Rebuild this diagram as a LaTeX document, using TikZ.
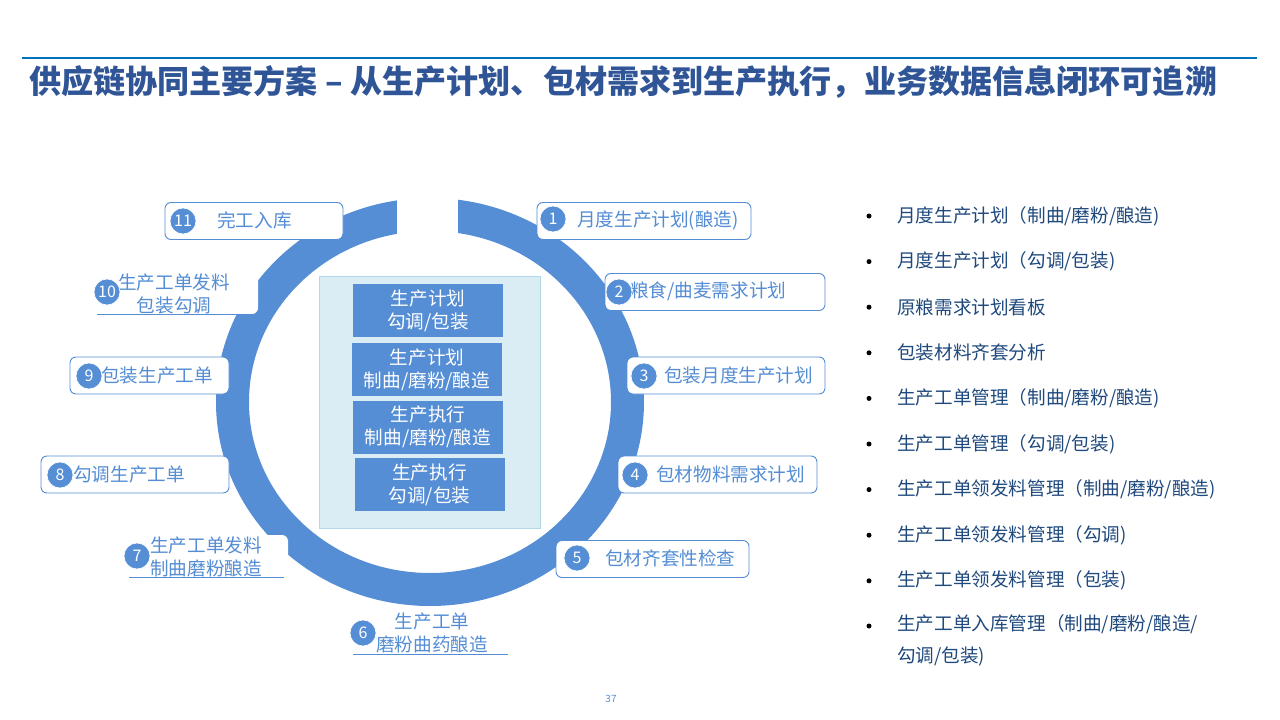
\documentclass[tikz,border=0pt]{standalone}
\usepackage{fontspec}
\newfontfamily\cjk{Noto Sans CJK SC}
\usetikzlibrary{positioning}
\definecolor{ringblue}{RGB}{85,142,213}
\definecolor{labblue}{RGB}{84,141,212}
\definecolor{titleblue}{RGB}{47,85,151}
\definecolor{listblue}{RGB}{31,73,125}
\definecolor{panelfill}{RGB}{218,236,244}
\definecolor{paneledge}{RGB}{176,217,232}
\definecolor{ruleblue}{RGB}{0,112,192}

\tikzset{
  labbox/.style={draw=labblue,fill=white,rounded corners=6pt,line width=0.9pt,minimum height=37pt,inner sep=0pt},
  numdot/.style={circle,fill=ringblue,draw=white,line width=0.6pt,minimum size=26pt,inner sep=0pt,text=white,font=\cjk\fontsize{16}{16}\selectfont},
  labtext/.style={anchor=west,text=labblue,inner sep=0pt,font=\cjk\fontsize{18.6}{23}\selectfont},
  twoline/.style={align=center,text=labblue,inner sep=0pt,font=\cjk\fontsize{18.6}{23}\selectfont},
  stagebox/.style={fill=ringblue,minimum width=150pt,minimum height=53pt,inner sep=0pt,align=center,text=white,font=\cjk\fontsize{18.6}{23}\selectfont},
  listdot/.style={circle,fill=black,minimum size=5pt,inner sep=0pt},
  listtext/.style={anchor=west,inner sep=0pt,text=listblue,align=left,font=\cjk\fontsize{18.6}{32}\selectfont},
  uline/.style={labblue,line width=0.9pt}
}

\begin{document}
\begin{tikzpicture}[x=1pt,y=-1pt]
\useasboundingbox (0,0) rectangle (1280,720);
\draw[ruleblue,line width=1.2pt] (22,58)--(1257,58);
\node[anchor=west,inner sep=0pt,text=titleblue,font=\cjk\bfseries\fontsize{32.1}{33}\selectfont] (title) at (29,82) {供应链协同主要方案 – 从生产计划、包材需求到生产执行，业务数据信息闭环可追溯};

% ring with gap at the top
\coordinate (ctr) at (430,402);
\fill[ringblue,even odd rule] (ctr) ellipse [x radius=214,y radius=204] (ctr) ellipse [x radius=181,y radius=171];
\fill[white] (397,190) rectangle (458,240);

% centre panel
\node[fill=panelfill,draw=paneledge,line width=0.8pt,minimum width=221pt,minimum height=252pt,inner sep=0pt] (panel) at (429.5,402) {};
\node[stagebox] (s1) at (428,310.5) {生产计划\\勾调/包装};
\node[stagebox] (s2) at (427,369.5) {生产计划\\制曲/磨粉/酿造};
\node[stagebox] (s3) at (428,427) {生产执行\\制曲/磨粉/酿造};
\node[stagebox] (s4) at (429.5,484.5) {生产执行\\勾调/包装};

% boxed steps
\node[labbox,minimum width=214pt] (b1) at (644,221) {};
\node[labtext] (t1) at (577,220) {月度生产计划(酿造)};
\node[numdot] (n1) at (553,219) {1};
\node[labbox,minimum width=220pt] (b2) at (715,292) {};
\node[labtext] (t2) at (630,291) {粮食/曲麦需求计划};
\node[numdot] (n2) at (619,292) {2};
\node[labbox,minimum width=198pt] (b3) at (726,375.5) {};
\node[labtext] (t3) at (664,375) {包装月度生产计划};
\node[numdot] (n3) at (644,376) {3};
\node[labbox,minimum width=199pt] (b4) at (717.5,474.5) {};
\node[labtext] (t4) at (656,474) {包材物料需求计划};
\node[numdot] (n4) at (635,475) {4};
\node[labbox,minimum width=193pt] (b5) at (652.5,559) {};
\node[labtext] (t5) at (605,558) {包材齐套性检查};
\node[numdot] (n5) at (577,558) {5};

% underlined steps
\node[twoline] (t6) at (432,633) {生产工单\\磨粉曲药酿造};
\draw[uline] (353,654)--(508,654);
\node[numdot] (n6) at (363,633) {6};
\fill[white,rounded corners=6pt] (129,535) rectangle (288,577);
\node[twoline] (t7) at (206,557) {生产工单发料\\制曲磨粉酿造};
\draw[uline] (129,577)--(284,577);
\node[numdot] (n7) at (137,556) {7};

\node[labbox,minimum width=188pt] (b8) at (135,474.5) {};
\node[labtext] (t8) at (73,474) {勾调生产工单};
\node[numdot] (n8) at (60,475) {8};
\node[labbox,minimum width=159pt] (b9) at (149.5,375.5) {};
\node[labtext] (t9) at (101,375) {包装生产工单};
\node[numdot] (n9) at (89,376) {9};

\fill[white,rounded corners=6pt] (97,273) rectangle (258,314);
\node[twoline] (t10) at (174,293.5) {生产工单发料\\包装勾调};
\draw[uline] (97,314)--(253,314);
\node[numdot] (n10) at (107,292) {10};
\node[labbox,minimum width=178pt] (b11) at (254,221) {};
\node[labtext] (t11) at (217,220) {完工入库};
\node[numdot] (n11) at (183,221) {11};

% function list
\foreach \t [count=\i] in {月度生产计划（制曲/磨粉/酿造), 月度生产计划（勾调/包装), 原粮需求计划看板, 包装材料齐套分析, 生产工单管理（制曲/磨粉/酿造), 生产工单管理（勾调/包装), 生产工单领发料管理（制曲/磨粉/酿造), 生产工单领发料管理（勾调), 生产工单领发料管理（包装)} {
  \node[listdot] (d\i) at (869,{216+45.6*(\i-1)}) {};
  \node[listtext] (l\i) at (897,{216+45.6*(\i-1)}) {\t};
}
\node[listdot] (d10) at (869,626) {};
\node[listtext,anchor=north west] (l10) at (897,614) {生产工单入库管理（制曲/磨粉/酿造/\\勾调/包装)};

\node[text=labblue,font=\cjk\fontsize{10}{10}\selectfont] (pg) at (611,699) {37};
\end{tikzpicture}
\end{document}
